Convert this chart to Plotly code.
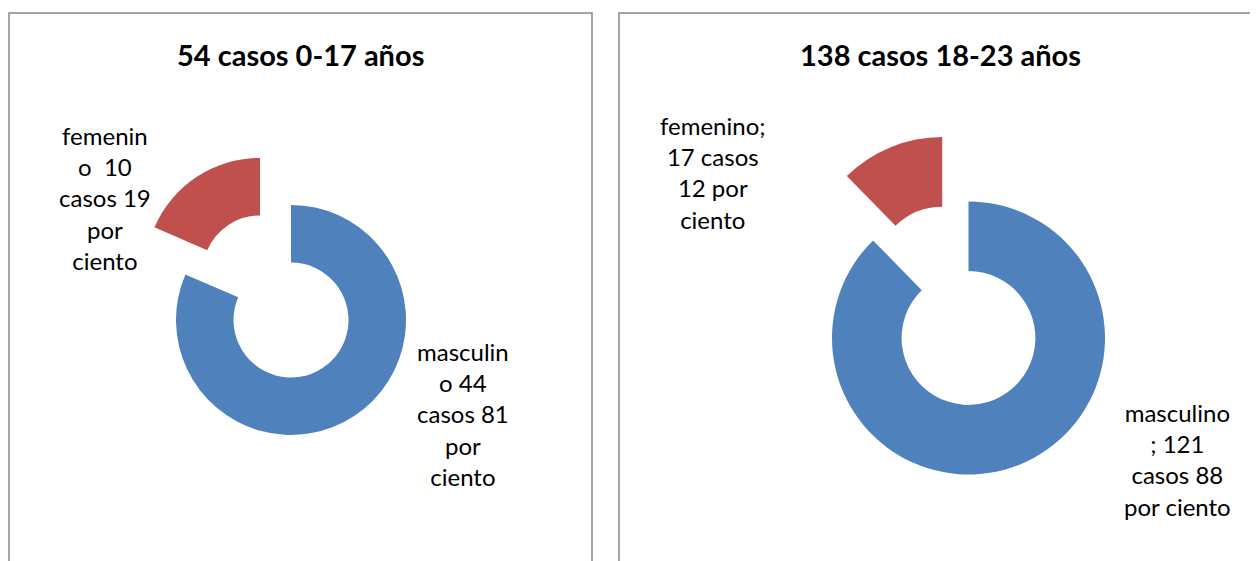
import plotly.graph_objects as go

W, H = 1258, 561
OFF = 8  # page body margin offset

sexos = ["masculino", "femenino"]
casos_0_17 = [44, 10]
casos_18_23 = [121, 17]
titulos = ["54 casos 0-17 años", "138 casos 18-23 años"]
etiquetas_0_17 = ["masculin<br>o 44<br>casos 81<br>por<br>ciento",
                  "femenin<br>o  10<br>casos 19<br>por<br>ciento"]
etiquetas_18_23 = ["masculino<br>; 121<br>casos 88<br>por ciento",
                   "femenino;<br>17 casos<br>12 por<br>ciento"]
colores = ["#4F81BD", "#C0504D"]

FONT = "Lato"


def fx(x):
    return (x - OFF) / W


def fy(y):
    return 1 - (y - OFF) / H


def px_domain(cx, cy, r, pull):
    half = r * (1 + pull)
    return dict(x=[fx(cx - half), fx(cx + half)],
                y=[fy(cy + half), fy(cy - half)])


fig = go.Figure()
fig.add_trace(go.Pie(
    labels=sexos, values=casos_0_17, hole=0.5, sort=False, direction="clockwise",
    rotation=0, pull=[0, 0.49], marker=dict(colors=colores),
    textinfo="none", hoverinfo="label+value+percent",
    domain=px_domain(291, 320, 115, 0.49), showlegend=False))
fig.add_trace(go.Pie(
    labels=sexos, values=casos_18_23, hole=0.49, sort=False, direction="clockwise",
    rotation=0, pull=[0, 0.51], marker=dict(colors=colores),
    textinfo="none", hoverinfo="label+value+percent",
    domain=px_domain(968.5, 338, 136.5, 0.51), showlegend=False))

shapes = [
    dict(type="rect", xref="paper", yref="paper",
         x0=fx(9), x1=fx(592), y0=-0.05, y1=fy(13),
         line=dict(color="#868686", width=1.5), layer="below"),
    dict(type="rect", xref="paper", yref="paper",
         x0=fx(619), x1=1.05, y0=-0.05, y1=fy(13),
         line=dict(color="#868686", width=1.5), layer="below"),
]

annotations = []
for txt, (x, y) in zip(titulos, [(300, 55), (940, 55)]):
    annotations.append(dict(text="<b>" + txt + "</b>", x=fx(x), y=fy(y),
                            xref="paper", yref="paper", showarrow=False,
                            xanchor="center", yanchor="middle",
                            font=dict(family=FONT, size=29, color="#000000")))

label_pos = [(etiquetas_0_17[0], 463, 414), (etiquetas_0_17[1], 105, 198),
             (etiquetas_18_23[0], 1177, 459), (etiquetas_18_23[1], 713, 172)]
for txt, x, y in label_pos:
    annotations.append(dict(text=txt, x=fx(x), y=fy(y), xref="paper", yref="paper",
                            showarrow=False, xanchor="center", yanchor="middle",
                            align="center",
                            font=dict(family=FONT, size=24, color="#000000")))

fig.update_layout(
    width=W, height=H, margin=dict(l=0, r=0, t=0, b=0),
    paper_bgcolor="white", plot_bgcolor="white",
    shapes=shapes, annotations=annotations,
)

fig.write_html("out.html")
